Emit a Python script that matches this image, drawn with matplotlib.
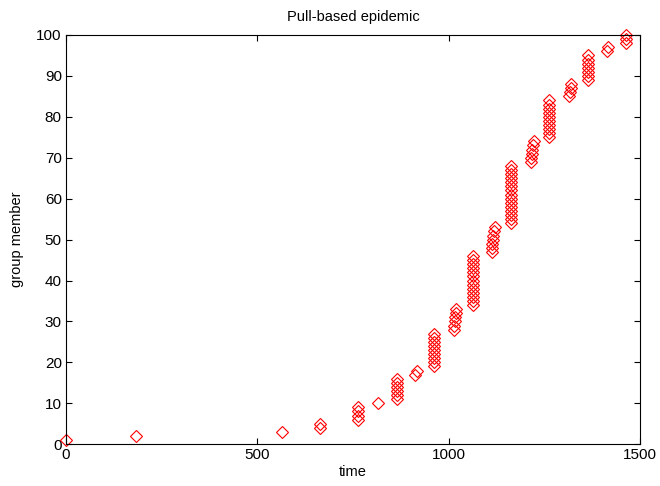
import matplotlib
matplotlib.use("Agg")
import matplotlib.pyplot as plt

# group member ids (1..100) and the time each one got infected
members = list(range(1, 101))
times = [
    0, 182, 563, 664, 664,
    764, 764, 764, 764,
    816,
    864, 864, 864, 864, 864, 864,
    912, 917,
    962, 962, 962, 962, 962, 962, 962, 962, 962,
    1013, 1014, 1016, 1017, 1018, 1019,
    1062, 1062, 1062, 1062, 1062, 1062, 1062, 1062, 1062, 1062, 1062, 1062, 1062,
    1112, 1113, 1114, 1115, 1116, 1118, 1120,
    1162, 1162, 1162, 1162, 1162, 1162, 1162, 1162, 1162, 1162, 1162, 1162, 1162, 1162, 1162,
    1214, 1215, 1217, 1218, 1220, 1222,
    1262, 1262, 1262, 1262, 1262, 1262, 1262, 1262, 1262, 1262,
    1314, 1316, 1318, 1320,
    1364, 1364, 1364, 1364, 1364, 1364, 1364,
    1413, 1415,
    1462, 1462, 1462,
]

x_ticks = [0, 500, 1000, 1500]
y_ticks = list(range(0, 101, 10))

plt.rcParams["font.family"] = ["Liberation Sans", "DejaVu Sans"]

fig = plt.figure(figsize=(6.6, 4.86), dpi=100)
ax = fig.add_axes([0.100, 0.086, 0.870, 0.842])

ax.plot(times, members, linestyle="none", marker="D", markersize=5.8,
        markerfacecolor="none", markeredgecolor="#ff0000", markeredgewidth=0.8,
        clip_on=False)

ax.set_xlim(0, 1500)
ax.set_ylim(0, 100)
ax.set_xticks(x_ticks)
ax.set_yticks(y_ticks)
ax.tick_params(direction="in", top=True, right=True, length=4, width=0.8,
               labelsize=11, pad=3)
for s in ax.spines.values():
    s.set_linewidth(0.8)

ax.set_xlabel("time", fontsize=10.5, labelpad=2)
ax.set_ylabel("group member", fontsize=10.5, labelpad=9)
ax.set_title("Pull-based epidemic", fontsize=10.5, pad=10)

fig.savefig("out.png", dpi=100, facecolor="white")
